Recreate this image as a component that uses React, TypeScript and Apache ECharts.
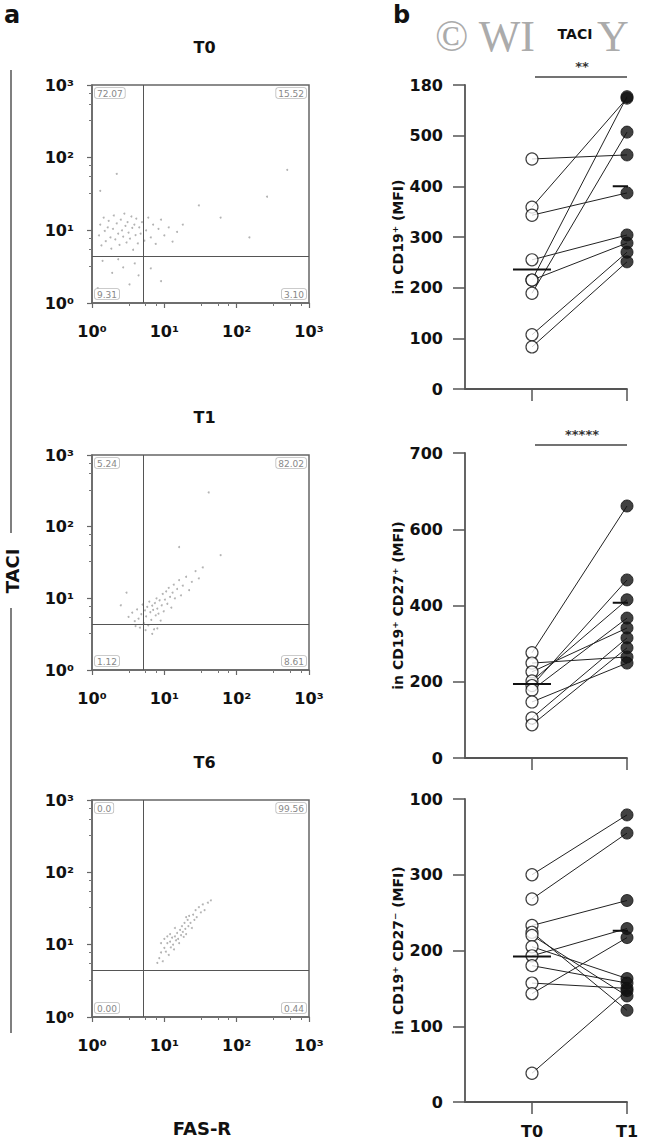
import React, { useEffect, useRef } from "react";
import * as echarts from "echarts";

// ---------- data ----------
const flowTitles = ["T0", "T1", "T6"];
const flowTickLabels = ["10⁰", "10¹", "10²", "10³"];
const quadT0 = ["72.07", "15.52", "9.31", "3.10"];
const quadT1 = ["5.24", "82.02", "1.12", "8.61"];
const quadT6 = ["0.0", "99.56", "0.00", "0.44"];
const gateX = [5.1, 5.1, 5.1];
const gateY = [4.45, 4.4, 4.5];

const dotsT0: number[][] = [
  [1.25, 8.5], [1.3, 12], [1.35, 6.2], [1.45, 15], [1.5, 9.8], [1.55, 7.1], [1.65, 11], [1.7, 13.5],
  [1.8, 8], [1.85, 5.6], [1.95, 10.5], [2.0, 16], [2.1, 7.5], [2.2, 12.5], [2.3, 9], [2.4, 6.3],
  [2.5, 14], [2.6, 10], [2.7, 8.2], [2.8, 17], [2.9, 11.5], [3.0, 6.8], [3.1, 13], [3.2, 9.3],
  [3.35, 7.7], [3.5, 15.5], [3.6, 10.8], [3.7, 5.4], [3.85, 12], [4.0, 8.6], [4.1, 14.5], [4.3, 6.6],
  [4.5, 11], [4.7, 9], [4.9, 13], [5.3, 7.2], [5.6, 10], [6.0, 15], [6.5, 8], [7.0, 12], [7.6, 6.5],
  [8.3, 10.5], [9.0, 14], [10, 8.5], [11.5, 11], [13, 7], [15, 9.5], [18, 12],
  [1.4, 3.8], [1.9, 2.6], [2.3, 4.0], [2.7, 3.1], [3.3, 1.8], [3.9, 3.5], [4.4, 2.4], [1.2, 1.6],
  [6.5, 3.0], [9, 2.0], [1.3, 35], [2.2, 60], [500, 68], [263, 29], [30, 22], [60, 15], [150, 8],
];
const dotsT1: number[][] = [
  [3.2, 5.5], [3.6, 6.3], [3.9, 4.8], [4.2, 7.0], [4.4, 5.2], [4.6, 3.9], [4.8, 6.0], [5.0, 8.2],
  [5.2, 4.5], [5.4, 6.8], [5.6, 5.6], [5.8, 7.6], [6.0, 4.2], [6.2, 9.0], [6.4, 6.4], [6.6, 5.0],
  [6.8, 7.9], [7.0, 6.9], [7.2, 3.7], [7.4, 8.6], [7.6, 5.8], [7.8, 10], [8.0, 7.2], [8.3, 6.1],
  [8.6, 9.4], [8.9, 4.9], [9.2, 8.0], [9.5, 11.5], [9.8, 6.6], [10.2, 9.6], [10.6, 12.5], [11, 8.4],
  [11.5, 14], [12, 10.5], [12.5, 7.4], [13, 12], [13.5, 15.5], [14, 10], [15, 13.5], [16, 18],
  [17, 11], [18, 15], [20, 20], [22, 13], [24, 17], [27, 24], [30, 19], [34, 27],
  [5.5, 3.6], [6.8, 3.2], [4.0, 4.1], [8, 3.8], [41, 300], [16, 52], [60, 40], [2.5, 8], [3, 12],
];
const dotsT6: number[][] = [
  [8, 5.6], [8.5, 6.5], [9, 7.8], [9.5, 5.9], [10, 9], [10.5, 8], [11, 10.5], [11.5, 7.2], [12, 11],
  [12.3, 9.2], [12.8, 12.5], [13.2, 10], [13.6, 8.6], [14, 13], [14.5, 11.5], [15, 14.5], [15.5, 12],
  [16, 10.5], [16.5, 16], [17, 13.5], [17.5, 18], [18, 15], [18.5, 12.8], [19, 20], [19.5, 16.5],
  [20, 14], [21, 22], [21.5, 18], [22, 25], [23, 20], [24, 17], [25, 26], [26, 22], [27, 30],
  [28, 24], [30, 33], [32, 28], [34, 36], [36, 30], [40, 38], [44, 41], [12, 14], [10, 12], [9, 10.5],
  [11, 13], [14, 17], [20, 24],
];

const pairCategories = ["T0", "T1"];
const p1T0 = [454, 359, 343, 255, 215, 215, 189, 107, 83];
const p1T1 = [462, 574, 387, 304, 288, 577, 507, 270, 251];
const p1Mean = [236, 400];
const p1Ticks = ["0", "100", "200", "300", "400", "500", "180"];

const p2T0 = [276, 249, 226, 202, 190, 178, 147, 105, 87];
const p2T1 = [661, 265, 341, 415, 467, 367, 249, 315, 289];
const p2Mean = [194, 407];
const p2Ticks = ["0", "200", "400", "600", "700"];

const p3T0 = [300, 268, 233, 224, 220, 205, 193, 180, 157, 143, 38];
const p3T1 = [379, 355, 266, 121, 140, 163, 229, 157, 150, 217, 147];
const p3Mean = [192, 226];
const p3Ticks = ["0", "100", "200", "300", "100"];

const rightNames = ["in CD19⁺ (MFI)", "in CD19⁺ CD27⁺ (MFI)", "in CD19⁺ CD27⁻ (MFI)"];
const statLabels = ["**", "*****", ""];

// ---------- layout ----------
const FONT = '"DejaVu Sans", "Noto Sans", sans-serif';
const FLOW_LEFT = 92;
const FLOW_W = 217;
const FLOW = [
  { top: 85, height: 218 },
  { top: 455, height: 215 },
  { top: 800, height: 217 },
];
const RIGHT_LEFT = 465;
const RIGHT_W = 162;
const RIGHT = [
  { top: 85, height: 304, max: 600, interval: 100 },
  { top: 453, height: 305, max: 800, interval: 200 },
  { top: 799, height: 303, max: 400, interval: 100 },
];

export default function App() {
  const ref = useRef<HTMLDivElement>(null);

  useEffect(() => {
    if (!ref.current) return;
    const chart = echarts.init(ref.current, undefined, { renderer: "svg" });

    const flowDots = [dotsT0, dotsT1, dotsT6];
    const quads = [quadT0, quadT1, quadT6];
    const pairsT0 = [p1T0, p2T0, p3T0];
    const pairsT1 = [p1T1, p2T1, p3T1];
    const means = [p1Mean, p2Mean, p3Mean];
    const ticks = [p1Ticks, p2Ticks, p3Ticks];

    const grid: any[] = [];
    const xAxis: any[] = [];
    const yAxis: any[] = [];
    const series: any[] = [];
    const graphic: any[] = [];

    FLOW.forEach((f, i) => {
      grid.push({
        left: FLOW_LEFT, top: f.top, width: FLOW_W, height: f.height,
        show: true, borderColor: "#666", borderWidth: 1.5, backgroundColor: "transparent",
      });
      const axisCommon = {
        type: "log", logBase: 10, min: 1, max: 1000, gridIndex: i,
        axisLine: { show: true, onZero: false, lineStyle: { color: "#666", width: 1.5 } },
        axisTick: { show: true, length: 5, lineStyle: { color: "#666", width: 1.2 } },
        minorTick: { show: true, splitNumber: 4, length: 3, lineStyle: { color: "#777" } },
        splitLine: { show: false },
        minorSplitLine: { show: false },
        axisLabel: {
          formatter: (v: number) => flowTickLabels[Math.round(Math.log10(v))],
          fontSize: 16, fontWeight: "bold", color: "#111", fontFamily: FONT,
        },
      };
      xAxis.push({ ...axisCommon, axisLabel: { ...axisCommon.axisLabel, margin: 20 } });
      yAxis.push({ ...axisCommon, axisLabel: { ...axisCommon.axisLabel, margin: 18 } });
      series.push({
        type: "scatter", xAxisIndex: i, yAxisIndex: i, data: flowDots[i],
        symbolSize: 2, itemStyle: { color: "#a0a0a0" }, silent: true, z: 2,
        markLine: {
          silent: true, symbol: "none", animation: false,
          label: { show: false },
          lineStyle: { color: "#555", width: 1, type: "solid" },
          data: [{ xAxis: gateX[i] }, { yAxis: gateY[i] }],
        },
      });
      graphic.push({
        type: "text", x: FLOW_LEFT + FLOW_W / 2 + 4, y: f.top - 38,
        style: { text: flowTitles[i], align: "center", verticalAlign: "middle", font: `bold 16px ${FONT}`, fill: "#111" },
      });
      const qStyle = {
        font: `9px ${FONT}`, fill: "#888", backgroundColor: "#fff", borderColor: "#bbb",
        borderWidth: 0.8, borderRadius: 2, padding: [1, 2, 0, 2],
      };
      const l = FLOW_LEFT + 3, r = FLOW_LEFT + FLOW_W - 3, t = f.top + 3, b = f.top + f.height - 4;
      graphic.push({ type: "text", x: l, y: t, z: 10, style: { ...qStyle, text: quads[i][0], align: "left", verticalAlign: "top" } });
      graphic.push({ type: "text", x: r, y: t, z: 10, style: { ...qStyle, text: quads[i][1], align: "right", verticalAlign: "top" } });
      graphic.push({ type: "text", x: l, y: b, z: 10, style: { ...qStyle, text: quads[i][2], align: "left", verticalAlign: "bottom" } });
      graphic.push({ type: "text", x: r, y: b, z: 10, style: { ...qStyle, text: quads[i][3], align: "right", verticalAlign: "bottom" } });
    });

    RIGHT.forEach((p, i) => {
      const gi = 3 + i;
      grid.push({ left: RIGHT_LEFT, top: p.top, width: RIGHT_W, height: p.height, show: false });
      xAxis.push({
        type: "value", gridIndex: gi, min: -0.705, max: 1,
        axisLine: { show: true, onZero: false, lineStyle: { color: "#555", width: 1.8 } },
        axisTick: { show: true, customValues: [0, 1], length: 12, lineStyle: { color: "#555", width: 1.5 } },
        axisLabel: {
          show: i === 2, customValues: [0, 1],
          formatter: (v: number) => pairCategories[Math.round(v)] ?? "",
          fontSize: 16, fontWeight: "bold", color: "#111", margin: 21, fontFamily: FONT,
        },
        splitLine: { show: false },
      });
      yAxis.push({
        type: "value", gridIndex: gi, min: 0, max: p.max, interval: p.interval,
        axisLine: { show: true, onZero: false, lineStyle: { color: "#555", width: 1.8 } },
        axisTick: { show: true, length: 12, lineStyle: { color: "#555", width: 1.5 } },
        splitLine: { show: false },
        axisLabel: {
          formatter: (v: number) => ticks[i][Math.round(v / p.interval)] ?? "",
          fontSize: 16, fontWeight: "bold", color: "#111", margin: 22, fontFamily: FONT,
        },
        name: rightNames[i], nameLocation: "middle", nameGap: 60, nameRotate: 90,
        nameTextStyle: { fontSize: 14, fontWeight: "bold", color: "#111", fontFamily: FONT },
      });
      pairsT0[i].forEach((a, k) => {
        series.push({
          type: "line", xAxisIndex: gi, yAxisIndex: gi, data: [[0, a], [1, pairsT1[i][k]]],
          symbol: "none", silent: true, z: 2, clip: false,
          lineStyle: { color: "#222", width: 1 },
        });
      });
      series.push({
        type: "scatter", xAxisIndex: gi, yAxisIndex: gi, data: pairsT0[i].map((v) => [0, v]),
        symbol: "circle", symbolSize: 12, clip: false, silent: true, z: 3,
        itemStyle: { color: "#fff", borderColor: "#111", borderWidth: 1.2 },
      });
      series.push({
        type: "scatter", xAxisIndex: gi, yAxisIndex: gi, data: pairsT1[i].map((v) => [1, v]),
        symbol: "circle", symbolSize: 12, clip: false, silent: true, z: 3,
        itemStyle: { color: "#111", borderColor: "#111", borderWidth: 1 },
      });
      series.push({
        type: "line", xAxisIndex: gi, yAxisIndex: gi, data: [[-0.2, means[i][0]], [0.2, means[i][0]]],
        symbol: "none", silent: true, z: 4, clip: false, lineStyle: { color: "#111", width: 2 },
      });
      series.push({
        type: "line", xAxisIndex: gi, yAxisIndex: gi, data: [[0.85, means[i][1]], [1.21, means[i][1]]],
        symbol: "none", silent: true, z: 4, clip: false, lineStyle: { color: "#111", width: 2 },
      });
      if (statLabels[i]) {
        graphic.push({
          type: "line", shape: { x1: 535, y1: p.top - 8, x2: 627, y2: p.top - 8 },
          style: { stroke: "#444", lineWidth: 1.5 },
        });
        graphic.push({
          type: "text", x: 582, y: p.top - 19,
          style: { text: statLabels[i], align: "center", verticalAlign: "middle", font: `bold 13px ${FONT}`, fill: "#333" },
        });
      }
    });

    // panel letters, labels, watermark
    graphic.push({ type: "text", x: 4, y: 3, style: { text: "a", verticalAlign: "top", font: `bold 24px ${FONT}`, fill: "#111" } });
    graphic.push({ type: "text", x: 393, y: 3, style: { text: "b", verticalAlign: "top", font: `bold 24px ${FONT}`, fill: "#111" } });
    graphic.push({
      type: "text", x: 435, y: 36,
      style: { text: "© WI", verticalAlign: "middle", font: `44px "Liberation Serif", serif`, fill: "#ababab" },
    });
    graphic.push({
      type: "text", x: 597, y: 36,
      style: { text: "Y", verticalAlign: "middle", font: `44px "Liberation Serif", serif`, fill: "#ababab" },
    });
    graphic.push({
      type: "text", x: 575, y: 34, z: 20,
      style: { text: "TACI", align: "center", verticalAlign: "middle", font: `bold 14px ${FONT}`, fill: "#111" },
    });
    graphic.push({ type: "line", shape: { x1: 11, y1: 70, x2: 11, y2: 533 }, style: { stroke: "#555", lineWidth: 1.5 } });
    graphic.push({ type: "line", shape: { x1: 11, y1: 608, x2: 11, y2: 1033 }, style: { stroke: "#555", lineWidth: 1.5 } });
    graphic.push({
      type: "text", x: 12, y: 571, rotation: Math.PI / 2,
      style: { text: "TACI", align: "center", verticalAlign: "middle", font: `bold 18px ${FONT}`, fill: "#111" },
    });
    graphic.push({
      type: "text", x: 202, y: 1128,
      style: { text: "FAS-R", align: "center", verticalAlign: "middle", font: `bold 18px ${FONT}`, fill: "#111" },
    });

    chart.setOption({
      animation: false,
      backgroundColor: "#fff",
      textStyle: { fontFamily: FONT },
      grid, xAxis, yAxis, series, graphic,
    });
    return () => chart.dispose();
  }, []);

  return <div ref={ref} style={{ position: "absolute", left: 0, top: 0, width: 650, height: 1144 }} />;
}
